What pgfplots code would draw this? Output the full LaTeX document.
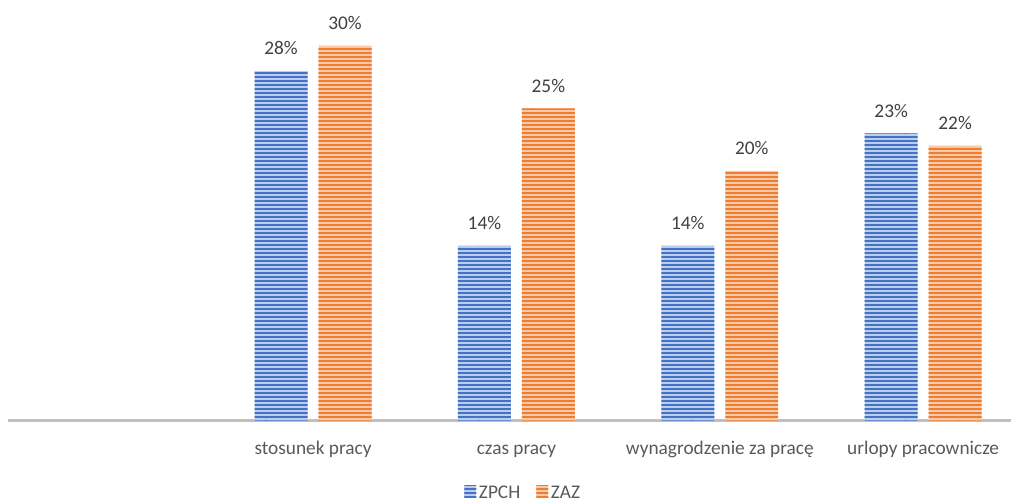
\documentclass[border=0pt]{standalone}
\usepackage{pgfplots}
\pgfplotsset{compat=1.18}
\usetikzlibrary{patterns}
\usepackage{fontspec}
\setmainfont{Carlito}
\definecolor{zblue}{HTML}{4472C4}
\definecolor{zbluel}{HTML}{BCCCEC}
\definecolor{zorange}{HTML}{ED7D31}
\definecolor{zorangel}{HTML}{F8C9A8}
\definecolor{axgray}{HTML}{BFBFBF}
\definecolor{txtgray}{HTML}{595959}
\definecolor{lblgray}{HTML}{404040}
\newcommand{\lblfont}{\fontsize{14.5}{17}\selectfont}
\pgfdeclarepatternformonly{hstripes}{\pgfpoint{-1pt}{0pt}}{\pgfpoint{41pt}{3pt}}{\pgfpoint{40pt}{3pt}}{%
  \pgfpathrectangle{\pgfpoint{-1pt}{0pt}}{\pgfpoint{42pt}{1.5pt}}\pgfusepath{fill}}
\begin{document}
\begin{tikzpicture}
\begin{axis}[
  scale only axis, width=752.8pt, height=309.4pt,
  xmin=-0.5, xmax=4.432, ymin=0, ymax=33,
  axis x line=bottom, axis y line=none,
  x axis line style={-, draw=axgray, line width=2.25pt},
  ybar=8.25pt, bar width=39.75pt,
  xtick={0,1,2,3,4},
  xticklabels={{}, stosunek pracy, czas pracy, wynagrodzenie za pracę, urlopy pracownicze},
  major tick length=0pt,
  xticklabel style={font=\lblfont, text=txtgray, anchor=base, yshift=-25.5pt},
  /pgf/number format/assume math mode=true,
  nodes near coords={\pgfmathprintnumber{\pgfplotspointmeta}\%},
  every node near coord/.append style={font=\lblfont, text=lblgray, anchor=base, yshift=12pt},
  legend style={draw=none, fill=none, at={(0.514,-0.175)}, anchor=center, font=\lblfont, text=txtgray,
    inner sep=0pt, nodes={inner sep=2pt},
    /tikz/every even column/.append style={column sep=10pt}},
  legend columns=2,
  legend image code/.code={\path[#1] (0pt,-3.5pt) rectangle (9pt,5.5pt);},
  clip=false,
]
\addplot[draw=none, fill=zbluel, postaction={pattern=hstripes, pattern color=zblue}]
  coordinates {(1,28) (2,14) (3,14) (4,23)};
\addplot[draw=none, fill=zorangel, postaction={pattern=hstripes, pattern color=zorange}]
  coordinates {(1,30) (2,25) (3,20) (4,22)};
\legend{ZPCH, ZAZ}
\coordinate (ll) at (rel axis cs:0,0);
\coordinate (ur) at (rel axis cs:1,1);
\end{axis}
\pgfresetboundingbox
\path[use as bounding box] ([shift={(-6pt,-60.75pt)}]ll) rectangle ([shift={(0pt,6.375pt)}]ur);
\end{tikzpicture}
\end{document}
